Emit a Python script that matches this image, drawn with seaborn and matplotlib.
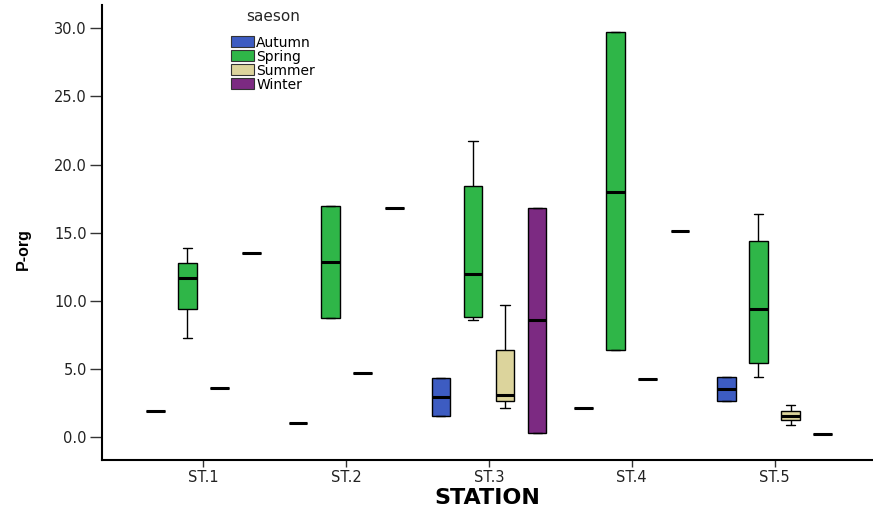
import numpy as np
import pandas as pd
import matplotlib
matplotlib.use("Agg")
import matplotlib.pyplot as plt
import seaborn as sns

stations = ["ST.1", "ST.2", "ST.3", "ST.4", "ST.5"]
seasons = ["Autumn", "Spring", "Summer", "Winter"]
season_colors = ["#3D5CC2", "#2FB648", "#DCD49C", "#7C2A82"]
y_ticks = [0, 5, 10, 15, 20, 25, 30]

# observations per station (five-number groups or single values)
autumn = [[1.9], [1.08], [1.59, 1.59, 2.96, 4.35, 4.35], [2.13], [2.64, 2.64, 3.57, 4.43, 4.43]]
spring = [[7.3, 9.44, 11.7, 12.8, 13.9], [8.75, 8.75, 12.86, 16.95, 16.95],
          [8.63, 8.83, 12.0, 18.4, 21.7], [6.38, 6.38, 18.0, 29.7, 29.7],
          [4.43, 5.45, 9.44, 14.38, 16.36]]
summer = [[3.6], [4.72], [2.18, 2.64, 3.13, 6.43, 9.7], [4.25], [0.88, 1.25, 1.54, 1.93, 2.35]]
winter = [[13.5], [16.8], [0.34, 0.34, 8.58, 16.8, 16.8], [15.1], [0.27]]

rows = []
for season, groups in zip(seasons, [autumn, spring, summer, winter]):
    for st, vals in zip(stations, groups):
        for v in vals:
            rows.append({"STATION": st, "saeson": season, "P-org": v})
df = pd.DataFrame(rows)

sns.set_style("white")
plt.rcParams["font.family"] = ["DejaVu Sans"]

fig = plt.figure(figsize=(8.73, 5.16), dpi=100)
ax = fig.add_axes([0.117, 0.108, 0.883, 0.882])

sns.boxplot(data=df, x="STATION", y="P-org", hue="saeson",
            order=stations, hue_order=seasons, palette=season_colors,
            saturation=1, width=0.9, gap=0.42, whis=(0, 100),
            linecolor="black", linewidth=1.0, fliersize=0,
            medianprops={"linewidth": 2.2}, ax=ax)

ax.set_xlim(-0.71, 4.69)
ax.set_ylim(-1.69, 31.7)
ax.set_yticks(y_ticks)
ax.set_yticklabels([f"{t:.1f}" for t in y_ticks])

for s in ["top", "right"]:
    ax.spines[s].set_visible(False)
for s in ["left", "bottom"]:
    ax.spines[s].set_color("black")
    ax.spines[s].set_linewidth(1.5)

ax.tick_params(axis="both", which="both", direction="out", width=1,
               color="#333333", labelsize=10.5, labelcolor="#222222",
               left=True, bottom=True)
ax.tick_params(axis="y", length=9, pad=2)
ax.tick_params(axis="x", length=5, pad=2)
ax.set_xlabel("STATION", fontsize=16, fontweight="bold", labelpad=2, color="black")
ax.set_ylabel("P-org", fontsize=11.5, fontweight="bold",
              fontfamily="Liberation Sans", color="black")
ax.yaxis.set_label_coords(-0.092, 0.465)

leg = ax.legend(title="saeson", loc="upper left", bbox_to_anchor=(0.155, 1.012),
                frameon=False, fontsize=10, title_fontsize=11,
                handlelength=1.6, handleheight=0.8, labelspacing=0.0,
                handletextpad=0.2, borderpad=0.2)
leg._legend_box.sep = 8
for t in leg.get_texts():
    t.set_color("black")
for p in leg.get_patches():
    p.set_edgecolor("#333333")
    p.set_linewidth(0.8)

fig.savefig("out.png", dpi=100)
